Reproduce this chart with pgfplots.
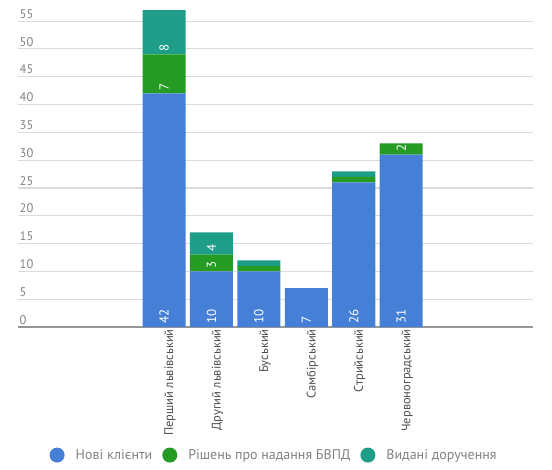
\documentclass[border=0pt]{standalone}
\usepackage{pgfplots}
\pgfplotsset{compat=1.18}
\usepackage{fontspec}
\setmainfont{PT Sans}
\definecolor{cblue}{RGB}{70,128,214}
\definecolor{cgreen}{RGB}{37,155,36}
\definecolor{cteal}{RGB}{30,158,136}
\definecolor{gridc}{RGB}{218,218,218}
\definecolor{axc}{RGB}{150,150,150}
\definecolor{txtc}{RGB}{130,130,130}
\definecolor{lblc}{RGB}{80,80,80}
\pgfplotsset{
  base/.style={
    at={(18pt,142pt)}, anchor=south west,
    scale only axis, width=515pt, height=317pt,
    xmin=-3.08, xmax=7.78, ymin=0, ymax=57,
  }
}
\begin{document}
\begin{tikzpicture}
\useasboundingbox (0,0) rectangle (552pt,469pt);
\begin{axis}[
  base,
  ybar stacked, bar width=0.907,
  axis x line*=bottom, axis y line*=left,
  x axis line style={-, axc, line width=1.8pt},
  y axis line style={draw=none},
  major tick length=0pt,
  ytick={0,5,...,55},
  ymajorgrids, major grid style={gridc, line width=1.1pt},
  xtick={0,1,2,3,4,5},
  xticklabels={Перший львівський, Другий львівський, Буський, Самбірський, Стрийський, Червоноградський},
  xticklabel style={rotate=90, anchor=east, font=\fontsize{12.5}{14}\selectfont, text=lblc, inner sep=2pt, yshift=-6pt},
  yticklabel style={anchor=south west, inner sep=1.5pt, yshift=1pt, font=\fontsize{12.5}{14}\selectfont, text=txtc},
  /pgf/number format/assume math mode=true,
  legend style={draw=none, at={(0.061,-0.404)}, anchor=west, legend columns=3, font=\fontsize{14}{16}\selectfont, text=txtc, inner sep=0pt,
    /tikz/every odd column/.append style={column sep=9pt},
    /tikz/every even column/.append style={column sep=8pt}},
  legend image code/.code={\fill[#1] (6pt,0pt) circle (7.5pt);},
]
\addplot[fill=cblue, draw=none] coordinates {(0,42) (1,10) (2,10) (3,7) (4,26) (5,31)};
\addplot[fill=cgreen, draw=none] coordinates {(0,7) (1,3) (2,1) (3,0) (4,1) (5,2)};
\addplot[fill=cteal, draw=none] coordinates {(0,8) (1,4) (2,1) (3,0) (4,1) (5,0)};
\legend{Нові клієнти, Рішень про надання БВПД, Видані доручення}
\end{axis}
% value labels at the base of each segment
\begin{axis}[base, hide axis]
\addplot[draw=none, mark=none, nodes near coords, point meta=explicit symbolic,
  every node near coord/.style={rotate=90, anchor=west, text=white, font=\fontsize{13}{15}\selectfont, inner sep=3pt}]
  coordinates {
    (0,0) [42] (1,0) [10] (2,0) [10] (3,0) [7] (4,0) [26] (5,0) [31]
    (0,42) [7] (1,10) [3] (5,31) [2]
    (0,49) [8] (1,13) [4]
  };
\end{axis}
\end{tikzpicture}
\end{document}
